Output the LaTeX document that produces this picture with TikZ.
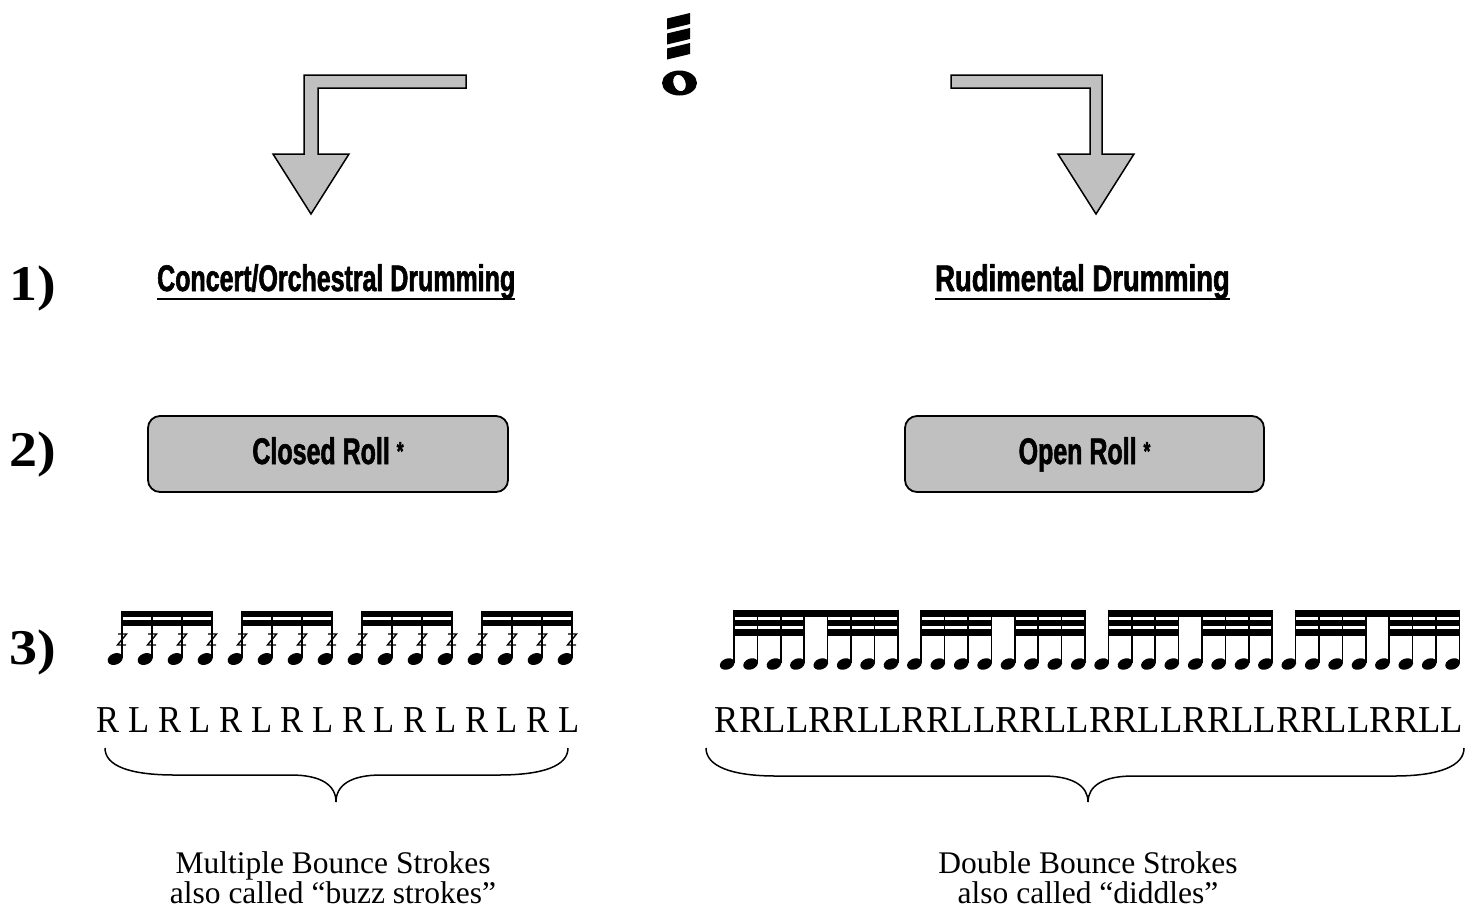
\documentclass[tikz,border=0pt]{standalone}
\usepackage{fontspec}
\setmainfont{Liberation Serif}
\newfontfamily\heavy[FakeStretch=0.675,FakeBold=1.5]{Liberation Sans}
\definecolor{boxgray}{HTML}{C0C0C0}
\tikzset{
  blockarrow/.style={fill=boxgray, draw=black, line width=1.5pt, line join=miter},
  rollbox/.style={draw=black, line width=1.8pt, fill=boxgray, rounded corners=12pt,
    minimum width=360pt, minimum height=76pt, inner sep=0pt,
    text height=20pt, text depth=0pt,
    font=\heavy\bfseries\fontsize{37}{37}\selectfont},
  heading/.style={inner sep=0pt, font=\heavy\bfseries\fontsize{37}{37}\selectfont},
  stepnum/.style={inner sep=0pt, font=\bfseries\fontsize{50}{50}\selectfont},
  sticking/.style={inner sep=0pt, font=\fontsize{38}{38}\selectfont},
  caption/.style={inner sep=0pt, align=center, font=\fontsize{31.5}{30}\selectfont},
  stemline/.style={line width=1.6pt},
  buzz/.style={line width=1.4pt, line join=miter},
  bracket/.style={line width=1.5pt},
}
\newcommand{\rollstar}{\raisebox{4pt}{\fontsize{26}{26}\selectfont *}}
\newcommand{\wide}[1]{\scalebox{1.12}[1]{#1}}
\begin{document}
\begin{tikzpicture}[x=1pt, y=-1pt]
\useasboundingbox[fill=white] (0,0) rectangle (1466,914);

% ---- roll symbol: whole note with three tremolo slashes ----
\foreach \k in {0,1,2}{
  \fill (667,{18.5+15*\k}) -- (690,{13+15*\k}) -- (690,{24+15*\k}) -- (667,{29.5+15*\k}) -- cycle;
}
\coordinate (roll) at (679.5,83);
\fill[even odd rule] (roll) ellipse [x radius=17.5, y radius=12.5]
  [rotate around={20:(roll)}] (roll) ellipse [x radius=6, y radius=8.5];

% ---- block arrows ----
\coordinate (larrow) at (466,75);
\coordinate (rarrow) at (951,75);
\draw[blockarrow] (larrow) -- (304,75) -- (304,154) -- (273,154) -- (311,214) -- (349,154)
  -- (318,154) -- (318,88) -- (466,88) -- cycle;
\draw[blockarrow] (rarrow) -- (1102,75) -- (1102,154) -- (1134,154) -- (1096,214) -- (1058,154)
  -- (1090,154) -- (1090,88) -- (951,88) -- cycle;

% ---- step numbers ----
\node[stepnum, anchor=base west] (n1) at (9,300) {\wide{1)}};
\node[stepnum, anchor=base west] (n2) at (9,466) {\wide{2)}};
\node[stepnum, anchor=base west] (n3) at (9,664) {\wide{3)}};

% ---- headings ----
\node[heading, anchor=base west] (concert) at (157,291) {Concert/Orchestral Drumming};
\node[heading, anchor=base west] (rudim) at (935,291) {\scalebox{1.1}[1]{Rudimental Drumming}};
\draw[line width=2.6pt] ([yshift=-8pt]concert.base west) -- ([yshift=-8pt]concert.base east);
\draw[line width=2.6pt] ([yshift=-8pt]rudim.base west) -- ([yshift=-8pt]rudim.base east);

% ---- roll boxes ----
\node[rollbox] (closed) at (328,454) {Closed Roll \rollstar};
\node[rollbox, minimum width=359pt] (open) at (1084.5,454) {Open Roll \rollstar};

% ---- closed roll: sixteenths with buzz marks ----
\foreach \i in {0,...,15}{
  \pgfmathsetmacro\sx{122+30*\i}
  \fill[rotate around={22:(\sx-6.8,659)}] (\sx-6.8,659) ellipse [x radius=7.8, y radius=5.6];
  \draw[stemline] (\sx,658) -- (\sx,611);
  \draw[buzz] (\sx-4,634) -- (\sx+4.5,634) -- (\sx-4.5,645) -- (\sx+4,645);
}
\foreach \g in {0,...,3}{
  \pgfmathsetmacro\a{122+120*\g-0.8}
  \pgfmathsetmacro\b{122+120*\g+90.8}
  \fill (\a,611) rectangle (\b,617);
  \fill (\a,620) rectangle (\b,625.5);
}

% ---- open roll: thirty-seconds ----
\foreach \i in {0,...,31}{
  \pgfmathsetmacro\sx{734+23.4*\i}
  \fill[rotate around={22:(\sx-6.8,664)}] (\sx-6.8,664) ellipse [x radius=7.6, y radius=5.4];
  \draw[stemline] (\sx,663) -- (\sx,610);
}
\foreach \g in {0,...,3}{
  \pgfmathsetmacro\a{734+187.2*\g-0.8}
  \pgfmathsetmacro\ma{734+187.2*\g+70.2+0.8}
  \pgfmathsetmacro\mb{734+187.2*\g+93.6-0.8}
  \pgfmathsetmacro\b{734+187.2*\g+163.8+0.8}
  \fill (\a,610) rectangle (\b,616.5);
  \fill (\a,619.5) rectangle (\ma,626);
  \fill (\a,629) rectangle (\ma,635.5);
  \fill (\mb,619.5) rectangle (\b,626);
  \fill (\mb,629) rectangle (\b,635.5);
}

% ---- stickings ----
\node[sticking, anchor=base] (lstick) at (338,732) {\scalebox{0.908}[1]{R L R L R L R L R L R L R L R L}};
\node[sticking, anchor=base] (rstick) at (1089,732) {\scalebox{0.963}[1]{RRLLRRLLRRLLRRLLRRLLRRLLRRLLRRLL}};

% ---- braces ----
\coordinate (lb0) at (105,748);
\coordinate (lb1) at (568,748);
\coordinate (ltip) at (336,802);
\draw[bracket] (lb0) .. controls (105,766) and (130,775) .. (175,775) -- (291,775)
  .. controls (321,775) and (336,785) .. (ltip)
  .. controls (336,785) and (351,775) .. (381,775) -- (498,775)
  .. controls (543,775) and (568,766) .. (lb1);
\coordinate (rb0) at (706,748);
\coordinate (rb1) at (1464,748);
\coordinate (rtip) at (1088,802);
\draw[bracket] (rb0) .. controls (706,766) and (731,776) .. (776,776) -- (1043,776)
  .. controls (1073,776) and (1088,786) .. (rtip)
  .. controls (1088,786) and (1103,776) .. (1133,776) -- (1394,776)
  .. controls (1439,776) and (1464,766) .. (rb1);

% ---- captions ----
\node[caption, anchor=base] (lcap) at (333,903) {Multiple Bounce Strokes\\also called “buzz strokes”};
\node[caption, anchor=base] (rcap) at (1088,903) {Double Bounce Strokes\\also called “diddles”};
\end{tikzpicture}
\end{document}
